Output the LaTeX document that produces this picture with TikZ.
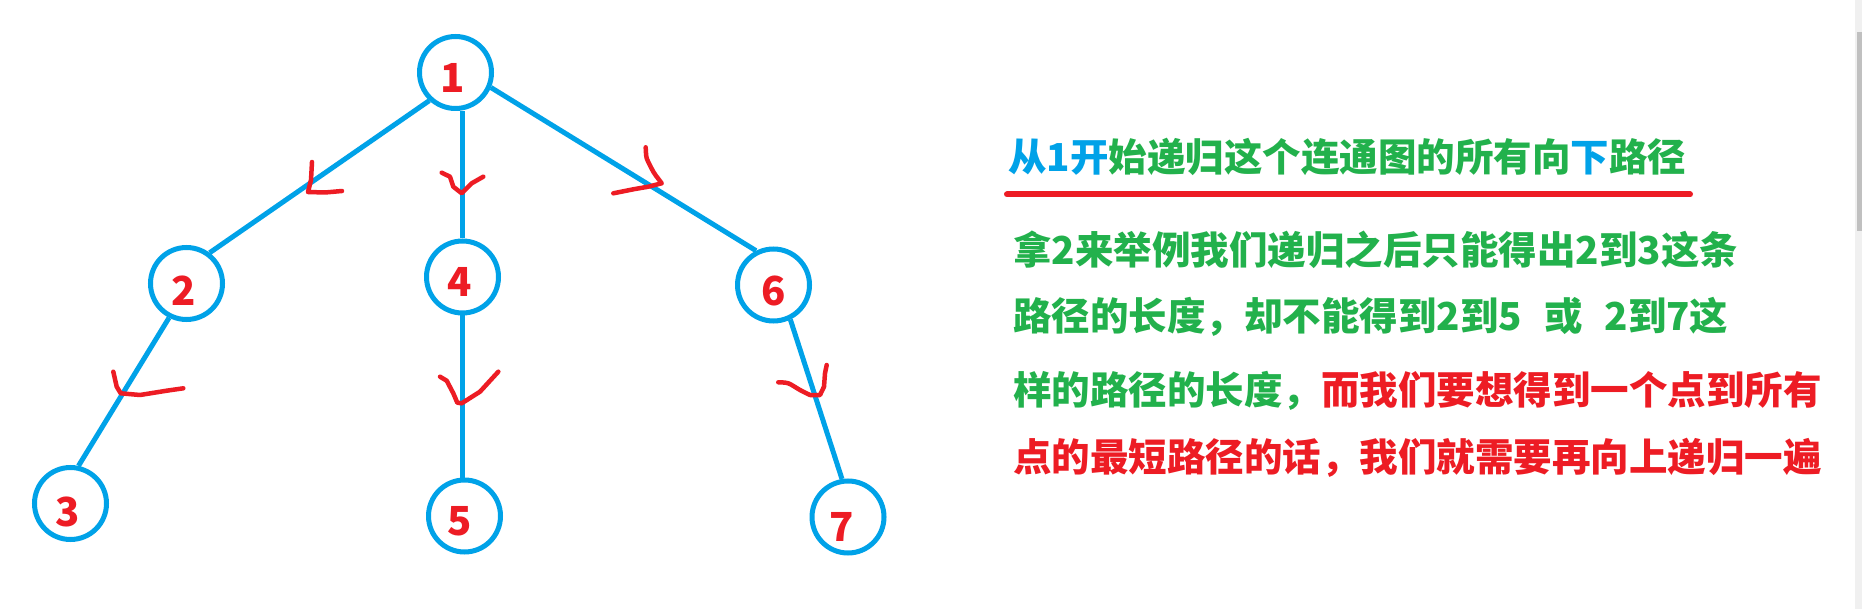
\documentclass[tikz,border=0pt]{standalone}
\usepackage{fontspec}
\newfontfamily\cjk{Noto Sans CJK SC}
\definecolor{pblue}{HTML}{00A2E8}
\definecolor{pred}{HTML}{ED1C24}
\definecolor{pgreen}{HTML}{22B14C}
\definecolor{track}{HTML}{F0F0F0}
\definecolor{thumb}{HTML}{C0C0C0}
\begin{document}
\begin{tikzpicture}[x=1pt,y=-1pt,
  vert/.style={circle,draw=pblue,line width=5pt,minimum size=72pt,inner sep=0pt},
  num/.style={text=pred,font=\cjk\bfseries\fontsize{40}{44}\selectfont,inner sep=0pt},
  edge/.style={draw=pblue,line width=5pt},
  tick/.style={draw=pred,line width=4.5pt,line cap=round,line join=round},
  txt/.style={anchor=west,inner sep=0pt,font=\cjk\bfseries\fontsize{38.5}{42}\selectfont}]
\useasboundingbox (0,0) rectangle (1862,609);
\fill[white] (0,0) rectangle (1862,609);
% scrollbar
\fill[track] (1855,0) rectangle (1862,609);
\fill[thumb] (1857,32) rectangle (1862,231);
% vertices
\node[vert] (n1) at (455.5,72.5) {};
\node[vert] (n2) at (186.5,283.5) {};
\node[vert] (n3) at (70.5,503.5) {};
\node[vert] (n4) at (462.5,277) {};
\node[vert] (n5) at (464.5,516) {};
\node[vert] (n6) at (773.5,285) {};
\node[vert] (n7) at (848,517) {};
% labels
\node[num] (l1) at (453,78) {1};
\node[num] (l2) at (184,291) {2};
\node[num] (l3) at (68,512) {3};
\node[num] (l4) at (460,282) {4};
\node[num] (l5) at (460,521) {5};
\node[num] (l6) at (774,291) {6};
\node[num] (l7) at (842,527) {7};
% edges
\draw[edge] (n1.227) -- (n2.53);
\draw[edge] (n1.south -| n4.north) -- (n4.north);
\draw[edge] (n1.-23) -- (n6.117);
\draw[edge] (n2.243) -- (n3.78);
\draw[edge] (n4.south) -- (n4.south |- n5.north);
\draw[edge] (n6.-64) -- (n7.99);
% red direction marks
\draw[tick] (312,162) -- (311,180) -- (308,192) -- (325,192.5) -- (342,191);
\draw[tick] (441.7,172.7) -- (450,176.7) -- (453.3,186.7) -- (461.7,193.3) -- (471.7,183.3) -- (483.3,176.7);
\draw[tick] plot[smooth,tension=0.4] coordinates {(645.7,147.3) (646.7,158.3) (653.3,171.7) (656.7,176.7)} -- (661.7,183.3) -- (648.3,186.7) -- (633.3,189.3) -- (613.3,193.3);
\draw[tick] (113.3,371.7) -- (116.7,386.7) -- (120.7,393.3) -- (140,395) -- (166.7,390.7) -- (183.3,388.3);
\draw[tick] (440,376.7) -- (446.7,380.7) -- (453.3,393.3) -- (457.3,402.7) -- (461.7,403.3) -- (480,391.7) -- (498.3,371.7);
\draw[tick] plot[smooth,tension=0.5] coordinates {(778.3,382.3) (788.3,383.3) (800,390) (810,395)} -- (820,395) -- (824,386.7) -- (825,373.3) -- (826.7,365);
% text
\node[txt] (t0) at (1008,157) {{\color{pblue}从1开}{\color{pgreen}始递归这个连通图的所有向}{\color{pblue}下}{\color{pgreen}路径}};
\draw[pred,line width=6pt,line cap=round] (1007,194.5) -- (1690,194.5);
\node[txt,text=pgreen] (t1) at (1013,250) {拿2来举例我们递归之后只能得出2到3这条};
\node[txt,text=pgreen] (t2) at (1013,317) {路径的长度，却不能得到2到5\hspace{22pt}或\hspace{22pt}2到7这};
\node[txt] (t3) at (1013,391) {{\color{pgreen}样的路径的长度，}{\color{pred}而我们要想得到一个点到所有}};
\node[txt,text=pred] (t4) at (1013,458) {点的最短路径的话，我们就需要再向上递归一遍};
\end{tikzpicture}
\end{document}
